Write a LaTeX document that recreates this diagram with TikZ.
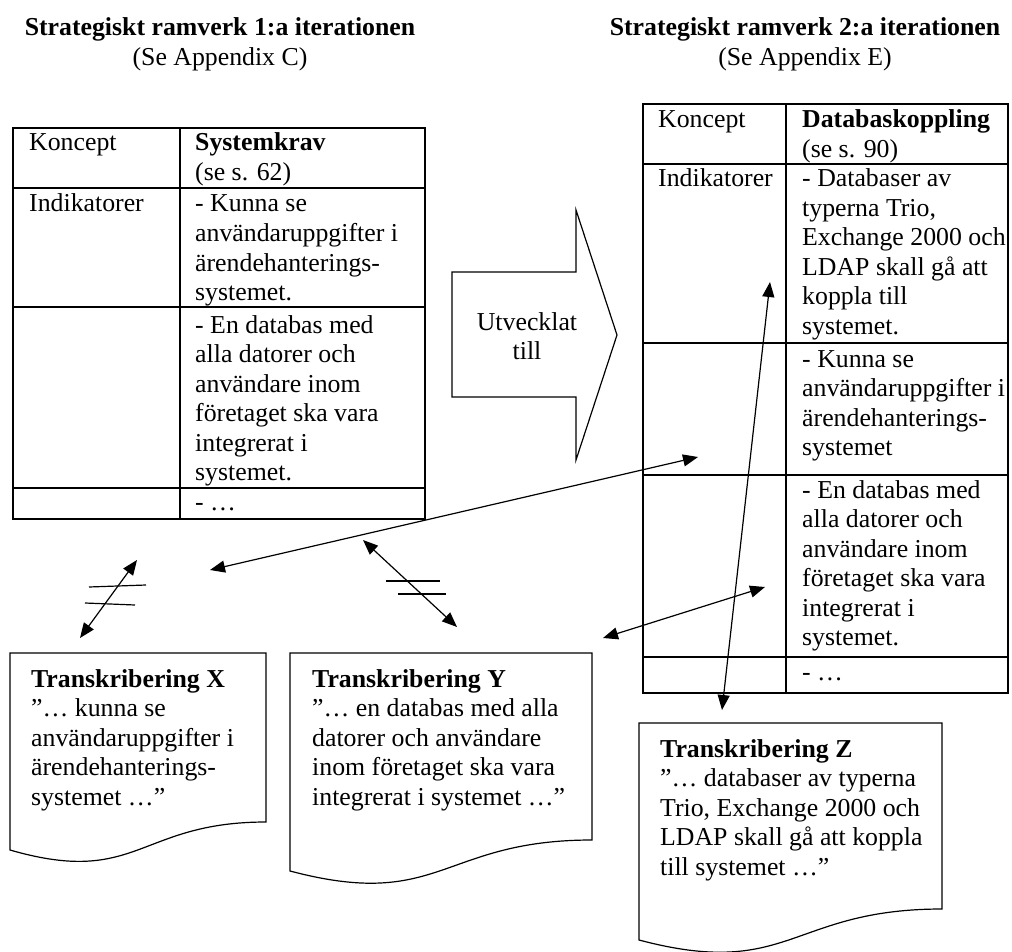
\documentclass[tikz,border=0pt]{standalone}
\usepackage{fontspec}
\setmainfont{Liberation Serif}
\usetikzlibrary{arrows.meta}
\newcommand\bodyfont{\fontsize{25.8pt}{29.5pt}\selectfont}
\newcommand\celltext[1]{\begin{tabular}[t]{@{}l@{}}#1\end{tabular}}
\newcommand\centertext[1]{\begin{tabular}[t]{@{}c@{}}#1\end{tabular}}
\begin{document}
\begin{tikzpicture}[x=1pt,y=-1pt,
  txt/.style={inner sep=0pt, anchor=base west, font=\bodyfont},
  ctxt/.style={inner sep=0pt, anchor=base, font=\bodyfont},
  grid/.style={line width=1.8pt},
  outline/.style={line width=1.2pt, line join=miter},
  tip/.tip={Triangle[length=15pt,width=12pt]},
  link/.style={line width=1.2pt, tip-tip},
  bar/.style={line width=1.2pt}]
\useasboundingbox (0,0) rectangle (1012,952);

% headings
\node[ctxt] (head1) at (220,36) {\centertext{\textbf{Strategiskt ramverk 1:a iterationen}\\(Se Appendix C)}};
\node[ctxt] (head2) at (805,36) {\centertext{\textbf{Strategiskt ramverk 2:a iterationen}\\(Se Appendix E)}};

% first framework table
\draw[grid] (13,128) rectangle (425,519);
\draw[grid] (180,128) -- (180,519);
\foreach \y in {188,307,488} \draw[grid] (13,\y) -- (425,\y);
\node[txt] (a11) at (29,151) {Koncept};
\node[txt] (a12) at (195,151) {\celltext{\textbf{Systemkrav}\\(se s. 62)}};
\node[txt] (a21) at (29,212) {Indikatorer};
\node[txt] (a22) at (195,212) {\celltext{- Kunna se\\användaruppgifter i\\ärendehanterings-\\systemet.}};
\node[txt] (a32) at (195,333) {\celltext{- En databas med\\alla datorer och\\användare inom\\företaget ska vara\\integrerat i\\systemet.}};
\node[txt] (a42) at (195,510) {- …};

% second framework table
\draw[grid] (643,104) rectangle (1008,693);
\draw[grid] (786,104) -- (786,693);
\foreach \y in {164,343,475,657} \draw[grid] (643,\y) -- (1008,\y);
\node[txt] (b11) at (658,128) {Koncept};
\node[txt] (b12) at (802,128) {\celltext{\textbf{Databaskoppling}\\(se s. 90)}};
\node[txt] (b21) at (658,187) {Indikatorer};
\node[txt] (b22) at (802,187) {\celltext{- Databaser av\\typerna Trio,\\Exchange 2000 och\\LDAP skall gå att\\koppla till\\systemet.}};
\node[txt] (b32) at (802,367) {\celltext{- Kunna se\\användaruppgifter i\\ärendehanterings-\\systemet}};
\node[txt] (b42) at (802,498) {\celltext{- En databas med\\alla datorer och\\användare inom\\företaget ska vara\\integrerat i\\systemet.}};
\node[txt] (b52) at (802,680) {- …};

% block arrow between the frameworks
\draw[outline] (452,272) -- (576,272) -- (576,210) -- (617,335) -- (576,460)
  -- (576,397) -- (452,397) -- cycle;
\node[ctxt] (evolved) at (527,330) {\centertext{Utvecklat\\till}};

% transcription documents
\draw[outline] (10,653) -- (266,653) -- (266,822)
  .. controls (138,822) and (138,887) .. (10,850) -- cycle;
\node[txt] (docx) at (31,687) {\celltext{\textbf{Transkribering X}\\”… kunna se\\användaruppgifter i\\ärendehanterings-\\systemet …”}};

\draw[outline] (290,653) -- (592,653) -- (592,840)
  .. controls (441,840) and (441,911) .. (290,871) -- cycle;
\node[txt] (docy) at (312,687) {\celltext{\textbf{Transkribering Y}\\”… en databas med alla\\datorer och användare\\inom företaget ska vara\\integrerat i systemet …”}};

\draw[outline] (639,723) -- (942,723) -- (942,909)
  .. controls (790,909) and (790,980) .. (639,940) -- cycle;
\node[txt] (docz) at (660,757) {\celltext{\textbf{Transkribering Z}\\”… databaser av typerna\\Trio, Exchange 2000 och\\LDAP skall gå att koppla\\till systemet …”}};

% connector end points
\coordinate (xa) at (137,560);
\coordinate (xb) at (80,638);
\coordinate (ya) at (363,540);
\coordinate (yb) at (457,627);
\coordinate (la) at (210,570);
\coordinate (lb) at (698,457);
\coordinate (ra) at (603,638);
\coordinate (rb) at (765,587);
\coordinate (za) at (770,282);
\coordinate (zb) at (722,710);

% links between requirements and transcriptions
\draw[link] (xa) -- (xb);
\draw[link] (ya) -- (yb);
\draw[link] (la) -- (lb);
\draw[link] (ra) -- (rb);
\draw[link] (za) -- (zb);

% "not equal" strokes
\draw[bar] (89,587) -- (146,585);
\draw[bar] (85,603) -- (135,605);
\draw[bar] (386,581) -- (440,581);
\draw[bar] (398,594) -- (446,594);
\end{tikzpicture}
\end{document}
